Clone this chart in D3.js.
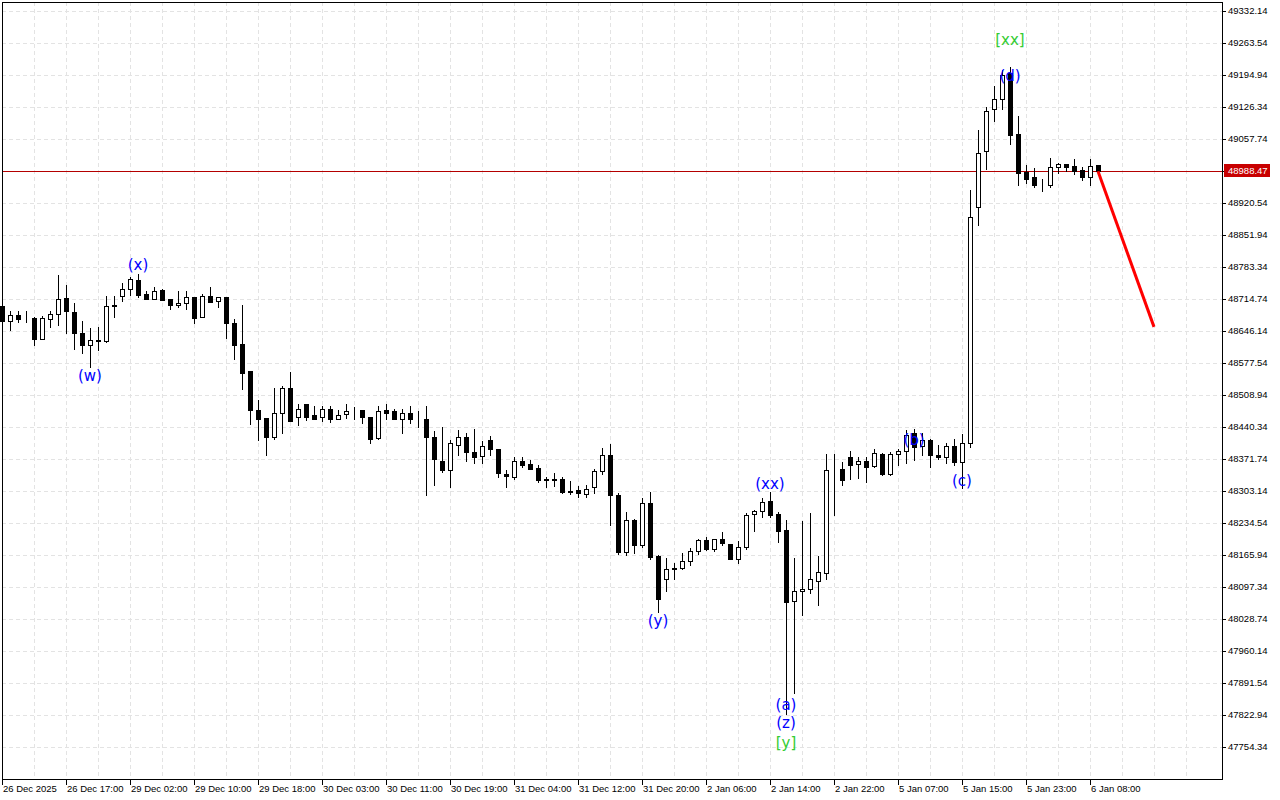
<!DOCTYPE html>
<html>
<head>
<meta charset="utf-8">
<script src="https://cdn.jsdelivr.net/npm/d3@7"></script>
<style>
body { margin: 0; background: #fff; }
svg { display: block; }
</style>
</head>
<body>
<div id="chart"></div>
<script>
// hourly bars, one label every 8 bars
const timeLabels = ['26 Dec 2025', '26 Dec 17:00', '29 Dec 02:00', '29 Dec 10:00', '29 Dec 18:00', '30 Dec 03:00',
    '30 Dec 11:00', '30 Dec 19:00', '31 Dec 04:00', '31 Dec 12:00', '31 Dec 20:00', '2 Jan 06:00',
    '2 Jan 14:00', '2 Jan 22:00', '5 Jan 07:00', '5 Jan 15:00', '5 Jan 23:00', '6 Jan 08:00']

const priceTicks = [47754.34, 47822.94, 47891.54, 47960.14, 48028.74, 48097.34, 48165.94, 48234.54,
    48303.14, 48371.74, 48440.34, 48508.94, 48577.54, 48646.14, 48714.74, 48783.34, 48851.94,
    48920.54, 48989.14, 49057.74, 49126.34, 49194.94, 49263.54, 49332.14]

const opens = [48699.7, 48666.9, 48679.8, 48672.5, 48674.0, 48629.6, 48672.5, 48682.6, 48716.9, 48686.9,
    48641.2, 48616.8, 48626.8, 48624.7, 48699.7, 48721.2, 48735.5, 48755.5, 48725.5, 48715.4,
    48734.0, 48714.1, 48702.5, 48705.5, 48718.4, 48675.5, 48721.2, 48711.1, 48718.4, 48662.7,
    48618.3, 48559.8, 48476.8, 48459.6, 48419.5, 48469.7, 48523.9, 48462.4, 48489.6, 48465.4,
    48461.1, 48479.6, 48458.1, 48468.2, 48475.3, 48476.8, 48461.1, 48416.8, 48476.8, 48474.0,
    48458.1, 48471.0, 48458.1, 48458.1, 48419.5, 48368.1, 48348.2, 48402.4, 48419.5, 48386.7,
    48378.2, 48412.5, 48392.5, 48339.6, 48333.8, 48366.8, 48361.0, 48352.4, 48326.7, 48328.2,
    48328.2, 48303.8, 48305.3, 48296.7, 48311.1, 48345.4, 48379.7, 48293.9, 48172.4, 48241.0,
    48186.7, 48276.8, 48163.8, 48113.8, 48136.6, 48138.1, 48152.4, 48173.9, 48198.1, 48179.4,
    48199.6, 48189.5, 48156.7, 48182.5, 48253.8, 48259.6, 48281.1, 48253.8, 48219.5, 48068.0,
    48088.1, 48092.4, 48110.8, 48128.0, 48348.2, 48350.9, 48375.4, 48361.0, 48366.8, 48356.7,
    48382.5, 48339.6, 48382.5, 48388.2, 48426.8, 48399.6, 48412.5, 48381.0, 48375.4, 48399.6,
    48365.3, 48405.4, 48911.3, 49031.4, 49121.4, 49142.9, 49198.6, 49068.5, 48987.0, 48975.6,
    48958.5, 48958.5, 48997.1, 49004.1, 48999.9, 48991.3, 48975.6, 49001.4]

const highs = [48701.9, 48689.7, 48689.7, 48689.0, 48675.5, 48678.3, 48689.7, 48766.8, 48744.1, 48706.8,
    48666.9, 48652.6, 48655.4, 48721.2, 48721.2, 48748.4, 48761.3, 48768.3, 48731.3, 48739.8,
    48736.8, 48714.1, 48731.3, 48731.3, 48719.7, 48725.5, 48739.8, 48719.7, 48718.4, 48671.2,
    48701.2, 48559.8, 48498.2, 48459.6, 48523.9, 48528.2, 48558.2, 48489.6, 48489.6, 48485.4,
    48485.4, 48485.4, 48476.8, 48489.6, 48482.6, 48476.8, 48461.1, 48485.4, 48489.6, 48479.6,
    48479.6, 48485.4, 48475.3, 48485.4, 48432.4, 48439.7, 48412.5, 48433.9, 48428.1, 48435.4,
    48409.7, 48421.0, 48392.5, 48348.2, 48375.4, 48375.4, 48369.6, 48358.2, 48333.8, 48341.1,
    48333.8, 48323.9, 48313.9, 48315.4, 48349.7, 48395.3, 48403.9, 48298.2, 48258.1, 48243.8,
    48288.1, 48301.0, 48165.3, 48159.5, 48149.4, 48170.9, 48180.9, 48200.9, 48205.2, 48200.9,
    48215.2, 48189.5, 48196.6, 48256.6, 48262.4, 48288.1, 48301.0, 48258.1, 48241.0, 48159.5,
    48239.5, 48256.6, 48163.8, 48382.5, 48382.5, 48365.3, 48389.5, 48375.4, 48375.4, 48393.8,
    48385.2, 48386.7, 48392.5, 48433.9, 48435.4, 48428.1, 48414.0, 48401.1, 48405.4, 48415.3,
    48425.3, 48948.4, 49077.0, 49125.7, 49171.4, 49205.7, 49212.7, 49107.0, 49001.4, 48995.6,
    48972.6, 49017.0, 49006.9, 49004.1, 49014.2, 48997.1, 49015.5, 49001.4]

const lows = [48665.4, 48648.3, 48665.4, 48665.4, 48615.5, 48629.6, 48655.4, 48659.6, 48641.2, 48608.2,
    48598.3, 48569.6, 48605.4, 48622.5, 48676.8, 48711.1, 48722.7, 48719.7, 48715.4, 48715.4,
    48712.6, 48693.9, 48697.0, 48692.7, 48662.7, 48675.5, 48708.3, 48698.2, 48631.1, 48586.8,
    48521.2, 48446.8, 48412.5, 48379.7, 48415.3, 48426.8, 48453.8, 48445.3, 48455.3, 48458.1,
    48453.8, 48451.1, 48458.1, 48459.6, 48458.1, 48449.6, 48406.7, 48415.3, 48458.1, 48456.8,
    48426.8, 48448.3, 48441.0, 48293.9, 48315.4, 48343.9, 48312.4, 48381.0, 48368.1, 48362.5,
    48362.5, 48379.7, 48333.8, 48311.1, 48329.5, 48354.0, 48350.9, 48322.4, 48312.4, 48313.9,
    48298.2, 48296.7, 48289.6, 48290.9, 48299.5, 48339.6, 48230.9, 48168.1, 48166.6, 48170.9,
    48183.7, 48156.7, 48043.7, 48089.4, 48115.1, 48136.6, 48145.1, 48168.1, 48176.7, 48175.2,
    48188.0, 48156.7, 48149.4, 48179.4, 48218.0, 48248.0, 48248.0, 48193.8, 47825.1, 47869.4,
    48038.0, 48085.1, 48058.1, 48113.8, 48252.3, 48315.4, 48328.2, 48331.0, 48322.4, 48355.2,
    48338.1, 48338.1, 48358.2, 48362.5, 48369.6, 48381.0, 48354.0, 48372.4, 48363.8, 48358.9,
    48309.6, 48396.8, 48874.0, 48994.1, 49095.7, 49122.7, 49047.0, 48959.8, 48964.1, 48955.5,
    48946.9, 48954.2, 48985.5, 48989.8, 48982.7, 48969.8, 48959.8, 48988.47]

const closes = [48668.2, 48679.8, 48672.5, 48671.2, 48629.6, 48674.0, 48682.6, 48714.1, 48688.4, 48641.2,
    48616.8, 48626.8, 48624.7, 48699.7, 48702.5, 48735.5, 48757.0, 48724.0, 48715.4, 48732.5,
    48712.6, 48702.5, 48705.5, 48718.4, 48674.0, 48721.2, 48708.3, 48718.4, 48662.7, 48616.8,
    48556.8, 48476.8, 48458.1, 48419.5, 48471.0, 48523.9, 48453.8, 48478.3, 48462.4, 48458.1,
    48479.6, 48458.1, 48466.7, 48475.3, 48474.8, 48461.1, 48415.3, 48475.3, 48471.0, 48458.1,
    48471.0, 48458.1, 48457.5, 48419.5, 48371.1, 48348.2, 48405.4, 48419.5, 48386.7, 48376.7,
    48399.6, 48392.5, 48341.1, 48335.3, 48368.1, 48359.5, 48350.9, 48326.7, 48328.2, 48327.5,
    48301.0, 48301.0, 48298.2, 48308.1, 48345.4, 48379.7, 48293.9, 48172.4, 48241.0, 48186.7,
    48276.8, 48162.3, 48071.0, 48136.6, 48138.1, 48152.4, 48173.9, 48198.1, 48179.4, 48199.6,
    48191.0, 48156.7, 48182.5, 48251.0, 48259.6, 48279.6, 48252.3, 48218.0, 48065.2, 48088.1,
    48092.4, 48113.8, 48129.5, 48348.2, 48349.0, 48326.7, 48359.5, 48368.1, 48355.2, 48384.0,
    48339.6, 48382.5, 48388.2, 48422.5, 48398.1, 48412.5, 48379.7, 48375.4, 48399.6, 48365.3,
    48406.7, 48891.2, 49028.4, 49117.1, 49142.9, 49194.3, 49067.0, 48985.5, 48972.6, 48958.5,
    48959.8, 48997.1, 49004.1, 48998.4, 48989.8, 48975.6, 48999.9, 48988.47]

const lastPrice = 48988.47
const forecastBars = [137, 144]
const forecastPrices = [48988.47, 48655.0]

// wave marks: bar index, price where the text sits
const waveTexts = ['(w)', '(x)', '(y)', '(xx)', '(a)', '(z)', '[y]', '(b)', '(c)', '(d)', '[xx]']
const waveBars = [11, 17, 82, 96, 98, 98, 98, 114, 120, 126, 126]
const wavePrices = [48549.7, 48787.6, 48024.4, 48318.1, 47844.4, 47805.8, 47762.9, 48412.5, 48324.6, 49192.8, 49270.0]
const waveDegree = ['minor', 'minor', 'minor', 'minor', 'minor', 'minor', 'major', 'minor', 'minor', 'minor', 'major']

document.addEventListener('DOMContentLoaded', () => draw())

function draw() {
    const width = 1280
    const height = 800
    const plotLeft = 2
    const plotRight = 1222
    const plotTop = 2
    const plotBottom = 779
    const barStep = 8

    const svg = d3.select('#chart')
        .append('svg')
        .attr('width', width)
        .attr('height', height)
        .style('font-family', '"Liberation Sans", Arial, sans-serif')
    svg.append('rect').attr('width', width).attr('height', height).attr('fill', '#fff')

    // Scales
    const x = d3.scaleLinear()
        .domain([0, 152])
        .range([plotLeft, plotLeft + 152 * barStep])
    const y = d3.scaleLinear()
        .domain([priceTicks[0], priceTicks[priceTicks.length - 1]])
        .range([747, 11])
    const px = v => Math.round(v) + 0.5

    const bars = opens.map((o, i) => ({ i, o, h: highs[i], l: lows[i], c: closes[i] }))

    // Grid
    const grid = svg.append('g').attr('stroke', '#e3e3e3').attr('stroke-dasharray', '4,3')
    grid.selectAll('.hgrid')
        .data(priceTicks)
        .enter()
        .append('line')
        .attr('x1', plotLeft).attr('x2', plotRight)
        .attr('y1', d => px(y(d))).attr('y2', d => px(y(d)))
    grid.selectAll('.vgrid')
        .data(d3.range(4, 152, 4))
        .enter()
        .append('line')
        .attr('x1', d => px(x(d))).attr('x2', d => px(x(d)))
        .attr('y1', plotTop).attr('y2', plotBottom)

    // Current price line
    svg.append('line')
        .attr('x1', plotLeft).attr('x2', plotRight)
        .attr('y1', px(y(lastPrice))).attr('y2', px(y(lastPrice)))
        .attr('stroke', '#b40000')

    // Candles
    const candles = svg.append('g').attr('id', 'candles')
    const candle = candles.selectAll('g')
        .data(bars)
        .enter()
        .append('g')
    candle.append('line')
        .attr('x1', d => px(x(d.i))).attr('x2', d => px(x(d.i)))
        .attr('y1', d => Math.round(y(d.h))).attr('y2', d => Math.round(y(d.l)) + 1)
        .attr('stroke', '#000')
    candle.append('rect')
        .attr('x', d => Math.round(x(d.i)) - 1.5)
        .attr('y', d => px(y(Math.max(d.o, d.c))))
        .attr('width', 4)
        .attr('height', d => Math.max(0, Math.round(y(Math.min(d.o, d.c))) - Math.round(y(Math.max(d.o, d.c)))))
        .attr('fill', d => d.c >= d.o ? '#fff' : '#000')
        .attr('stroke', '#000')

    // Forecast
    svg.append('line')
        .attr('x1', x(forecastBars[0])).attr('y1', y(forecastPrices[0]))
        .attr('x2', x(forecastBars[1])).attr('y2', y(forecastPrices[1]))
        .attr('stroke', '#ff0000')
        .attr('stroke-width', 3)

    // Wave labels
    svg.append('g')
        .selectAll('text')
        .data(waveTexts)
        .enter()
        .append('text')
        .attr('x', (d, i) => x(waveBars[i]))
        .attr('y', (d, i) => y(wavePrices[i]))
        .attr('text-anchor', 'middle')
        .attr('dominant-baseline', 'central')
        .attr('font-family', '"DejaVu Sans", Verdana, sans-serif')
        .attr('font-size', '15px')
        .attr('fill', (d, i) => waveDegree[i] === 'major' ? '#33cc33' : '#0000ff')
        .text(d => d)

    // Frame
    svg.append('rect')
        .attr('x', plotLeft + 0.5).attr('y', plotTop + 0.5)
        .attr('width', plotRight - plotLeft).attr('height', plotBottom - plotTop)
        .attr('fill', 'none').attr('stroke', '#000')

    // Price axis
    const yAxis = svg.append('g').attr('font-size', '9.5px')
    yAxis.selectAll('line')
        .data(priceTicks)
        .enter()
        .append('line')
        .attr('x1', plotRight).attr('x2', plotRight + 4)
        .attr('y1', d => px(y(d))).attr('y2', d => px(y(d)))
        .attr('stroke', '#000')
    yAxis.selectAll('text')
        .data(priceTicks)
        .enter()
        .append('text')
        .attr('x', plotRight + 6)
        .attr('y', d => y(d))
        .attr('dy', '0.35em')
        .attr('fill', '#000')
        .text(d => d3.format('.2f')(d))

    const tag = svg.append('g').attr('transform', `translate(${plotRight + 2}, ${Math.round(y(lastPrice))})`)
    tag.append('rect').attr('x', 0).attr('y', -7).attr('width', 46).attr('height', 13).attr('fill', '#c80000')
    tag.append('text')
        .attr('x', 4).attr('y', 0).attr('dy', '0.35em')
        .attr('font-size', '9.5px').attr('fill', '#fff')
        .text(d3.format('.2f')(lastPrice))

    // Time axis
    const xAxis = svg.append('g').attr('font-size', '9.5px')
    xAxis.selectAll('line')
        .data(timeLabels)
        .enter()
        .append('line')
        .attr('x1', (d, i) => px(x(i * 8))).attr('x2', (d, i) => px(x(i * 8)))
        .attr('y1', plotBottom).attr('y2', plotBottom + 6)
        .attr('stroke', '#000')
    xAxis.selectAll('text')
        .data(timeLabels)
        .enter()
        .append('text')
        .attr('x', (d, i) => x(i * 8) + 1)
        .attr('y', plotBottom + 13)
        .attr('fill', '#000')
        .text(d => d)
}
</script>
</body>
</html>
